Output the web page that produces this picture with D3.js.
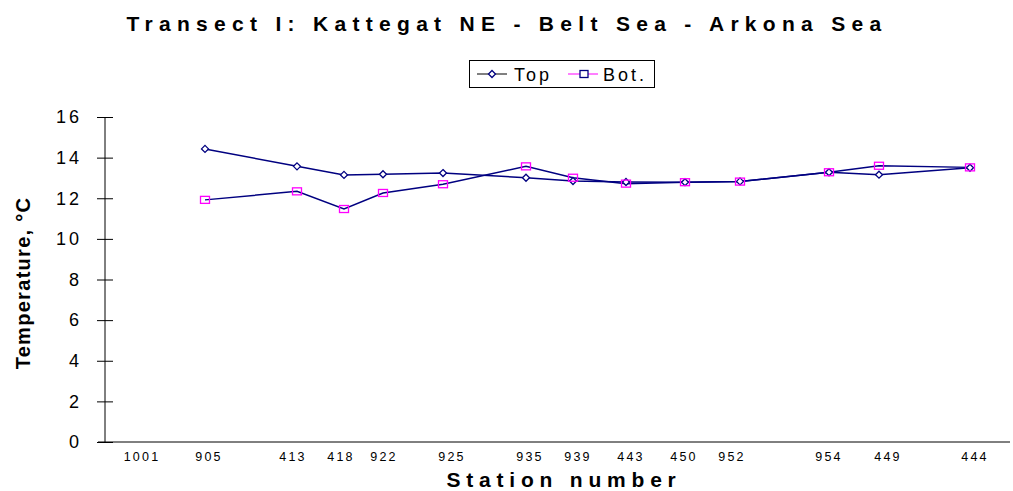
<!DOCTYPE html>
<html>
<head>
<meta charset="utf-8">
<script src="https://cdn.jsdelivr.net/npm/d3@7"></script>
<style>
  body { margin: 0; background: #fff; }
  text { font-family: Arial, "Liberation Sans", sans-serif; }
</style>
</head>
<body>
<svg width="1013" height="491"></svg>
<script>
// Stations along the transect (distance units along the x axis)
const stations = ["1001", "905", "413", "418", "922", "925", "935", "939", "443", "450", "952", "954", "449", "444"];
const labelDist = [36, 103, 187, 235, 278, 346, 424, 472, 525, 578, 626, 723, 782, 869];
const pointDist = [null, 100, 192, 239, 278, 338, 421, 468, 521, 580, 635, 724, 774, 865];

// Temperature values, deg C (1001 has no data)
const topTemp = [null, 14.43, 13.57, 13.15, 13.18, 13.24, 13.01, 12.85, 12.8, 12.79, 12.83, 13.28, 13.16, 13.5];
const botTemp = [null, 11.92, 12.34, 11.47, 12.26, 12.69, 13.57, 13.01, 12.72, 12.79, 12.82, 13.28, 13.6, 13.52];

const yTicks = [0, 2, 4, 6, 8, 10, 12, 14, 16];

const svg = d3.select("svg");
const navy = "#000080", magenta = "#ff00ff";

const x = d3.scaleLinear().domain([0, 905]).range([105, 1010]);
const y = d3.scaleLinear().domain([0, 16]).range([442, 117]);

// title
svg.append("text")
  .attr("x", 507).attr("y", 31)
  .attr("text-anchor", "middle")
  .style("font-size", "21px").style("font-weight", "bold")
  .style("letter-spacing", "6.3px")
  .text("Transect I: Kattegat NE - Belt Sea - Arkona Sea");

// y axis
const yAxis = svg.append("g")
  .attr("transform", "translate(105,0)")
  .call(d3.axisLeft(y).tickValues(yTicks).tickSize(8).tickPadding(17));
yAxis.select(".domain").attr("d", "M0,117V442").attr("stroke", "#000");
yAxis.selectAll(".tick line").attr("x1", -8).attr("x2", 8).attr("stroke", "#000");
yAxis.selectAll(".tick text")
  .style("font-size", "18px").style("font-family", "Arial, 'Liberation Sans', sans-serif")
  .style("letter-spacing", "3px")
  .attr("fill", "#000").attr("dx", "2");

// x axis line
svg.append("line")
  .attr("x1", 98).attr("x2", 1010)
  .attr("y1", y(0)).attr("y2", y(0))
  .attr("stroke", "#000");

// station labels
svg.append("g").selectAll("text")
  .data(stations)
  .join("text")
  .attr("x", (d, i) => x(labelDist[i]) + 1)
  .attr("y", 461)
  .attr("text-anchor", "middle")
  .style("font-size", "12.5px")
  .style("letter-spacing", "2.2px")
  .text(d => d);

// axis titles
svg.append("text")
  .attr("x", 564).attr("y", 487)
  .attr("text-anchor", "middle")
  .style("font-size", "21px").style("font-weight", "bold")
  .style("letter-spacing", "5.8px")
  .text("Station number");

svg.append("text")
  .attr("transform", "translate(30,283) rotate(-90)")
  .attr("text-anchor", "middle")
  .style("font-size", "20px").style("font-weight", "bold")
  .style("letter-spacing", "1.3px")
  .text("Temperature, °C");

// build series
const makePts = vals => vals.map((v, i) => ({ d: pointDist[i], v: v })).filter(p => p.v !== null);
const topPts = makePts(topTemp);
const botPts = makePts(botTemp);

const line = d3.line().x(p => x(p.d)).y(p => y(p.v));

svg.append("path").datum(botPts)
  .attr("d", line).attr("fill", "none")
  .attr("stroke", navy).attr("stroke-width", 1.5);
svg.append("path").datum(topPts)
  .attr("d", line).attr("fill", "none")
  .attr("stroke", navy).attr("stroke-width", 1.5);

// markers
svg.append("g").selectAll("path")
  .data(topPts)
  .join("path")
  .attr("transform", p => `translate(${x(p.d)},${y(p.v)})`)
  .attr("d", "M0,-3.5L3.5,0L0,3.5L-3.5,0Z")
  .attr("fill", "#fff").attr("stroke", navy).attr("stroke-width", 1.3);

svg.append("g").selectAll("rect")
  .data(botPts)
  .join("rect")
  .attr("x", p => x(p.d) - 4.5).attr("y", p => y(p.v) - 3.5)
  .attr("width", 9).attr("height", 7)
  .attr("fill", "none").attr("stroke", magenta).attr("stroke-width", 1.3);

// legend
const lg = svg.append("g");
lg.append("rect")
  .attr("x", 469.5).attr("y", 60.5).attr("width", 185).attr("height", 27)
  .attr("fill", "#fff").attr("stroke", "#000");
lg.append("line").attr("x1", 477).attr("x2", 507).attr("y1", 74).attr("y2", 74).attr("stroke", "#000");
lg.append("path").attr("transform", "translate(492,74)")
  .attr("d", "M0,-3.5L3.5,0L0,3.5L-3.5,0Z")
  .attr("fill", "#fff").attr("stroke", navy).attr("stroke-width", 1.3);
lg.append("text").attr("x", 514).attr("y", 81)
  .style("font-size", "18px").style("letter-spacing", "3px").text("Top");
lg.append("line").attr("x1", 568).attr("x2", 598).attr("y1", 74).attr("y2", 74).attr("stroke", magenta);
lg.append("rect").attr("x", 580).attr("y", 70.5).attr("width", 8).attr("height", 7)
  .attr("fill", "#fff").attr("stroke", navy).attr("stroke-width", 1.3);
lg.append("text").attr("x", 603).attr("y", 81)
  .style("font-size", "18px").style("letter-spacing", "3px").text("Bot.");
</script>
</body>
</html>
